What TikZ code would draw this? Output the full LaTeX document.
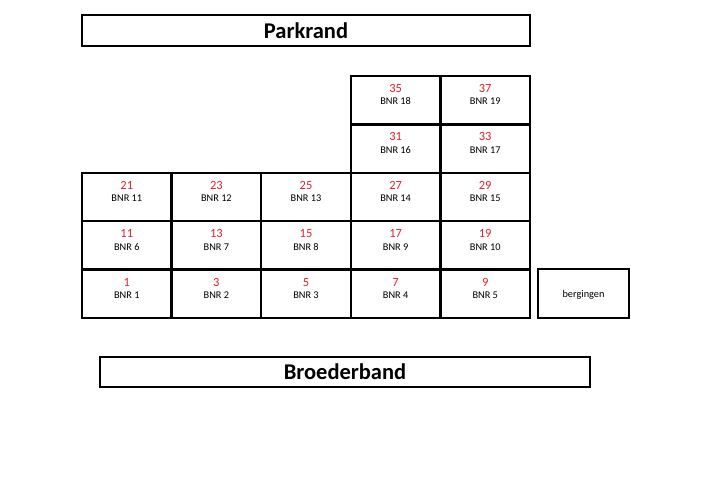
\documentclass[tikz,border=0pt]{standalone}
\usepackage{fontspec}
\setmainfont{Carlito}
\usetikzlibrary{positioning}
\definecolor{numred}{HTML}{E3202B}

\begin{document}
\begin{tikzpicture}[x=1pt,y=-1pt,
    cell/.style={draw, line width=2.4pt, outer sep=0pt, minimum width=89.6pt, minimum height=48.4pt, inner sep=0pt},
    street/.style={draw, line width=2.4pt, outer sep=0pt, inner sep=0pt, font=\fontsize{22.5}{26}\selectfont\bfseries},
    huisnr/.style={inner sep=0pt, text=numred, font=\fontsize{12.5}{14}\selectfont},
    bnrtext/.style={inner sep=0pt, font=\fontsize{10.3}{12}\selectfont}]
    \useasboundingbox (0,0) rectangle (720,480);

    % Streets
    \node[street, minimum width=448pt, minimum height=31pt] (parkrand) at (306,30.5) {Parkrand};
    \node[street, minimum width=490pt, minimum height=30pt] (broederband) at (345,372) {Broederband};

    % Building blocks (column/row/house number/BNR)
    \foreach \c/\r/\nr/\bnr in {3/0/35/18, 4/0/37/19,
                                3/1/31/16, 4/1/33/17,
                                0/2/21/11, 1/2/23/12, 2/2/25/13, 3/2/27/14, 4/2/29/15,
                                0/3/11/6, 1/3/13/7, 2/3/15/8, 3/3/17/9, 4/3/19/10,
                                0/4/1/1, 1/4/3/2, 2/4/5/3, 3/4/7/4, 4/4/9/5} {
        \node[cell] (bnr\bnr) at ({82+89.6*(\c+0.5)},{76+48.4*(\r+0.5)}) {};
        \node[huisnr] (nr\nr) at ([yshift=-12.5pt]bnr\bnr.north) {\nr};
        \node[bnrtext] (lbl\bnr) at ([yshift=-25.5pt]bnr\bnr.north) {BNR \bnr};
    }

    % Storage
    \node[cell, minimum width=91pt, minimum height=49pt] (bergingen) at (583.5,293.5) {};
    \node[bnrtext] (berglbl) at ([yshift=-26pt]bergingen.north) {bergingen};
\end{tikzpicture}
\end{document}
